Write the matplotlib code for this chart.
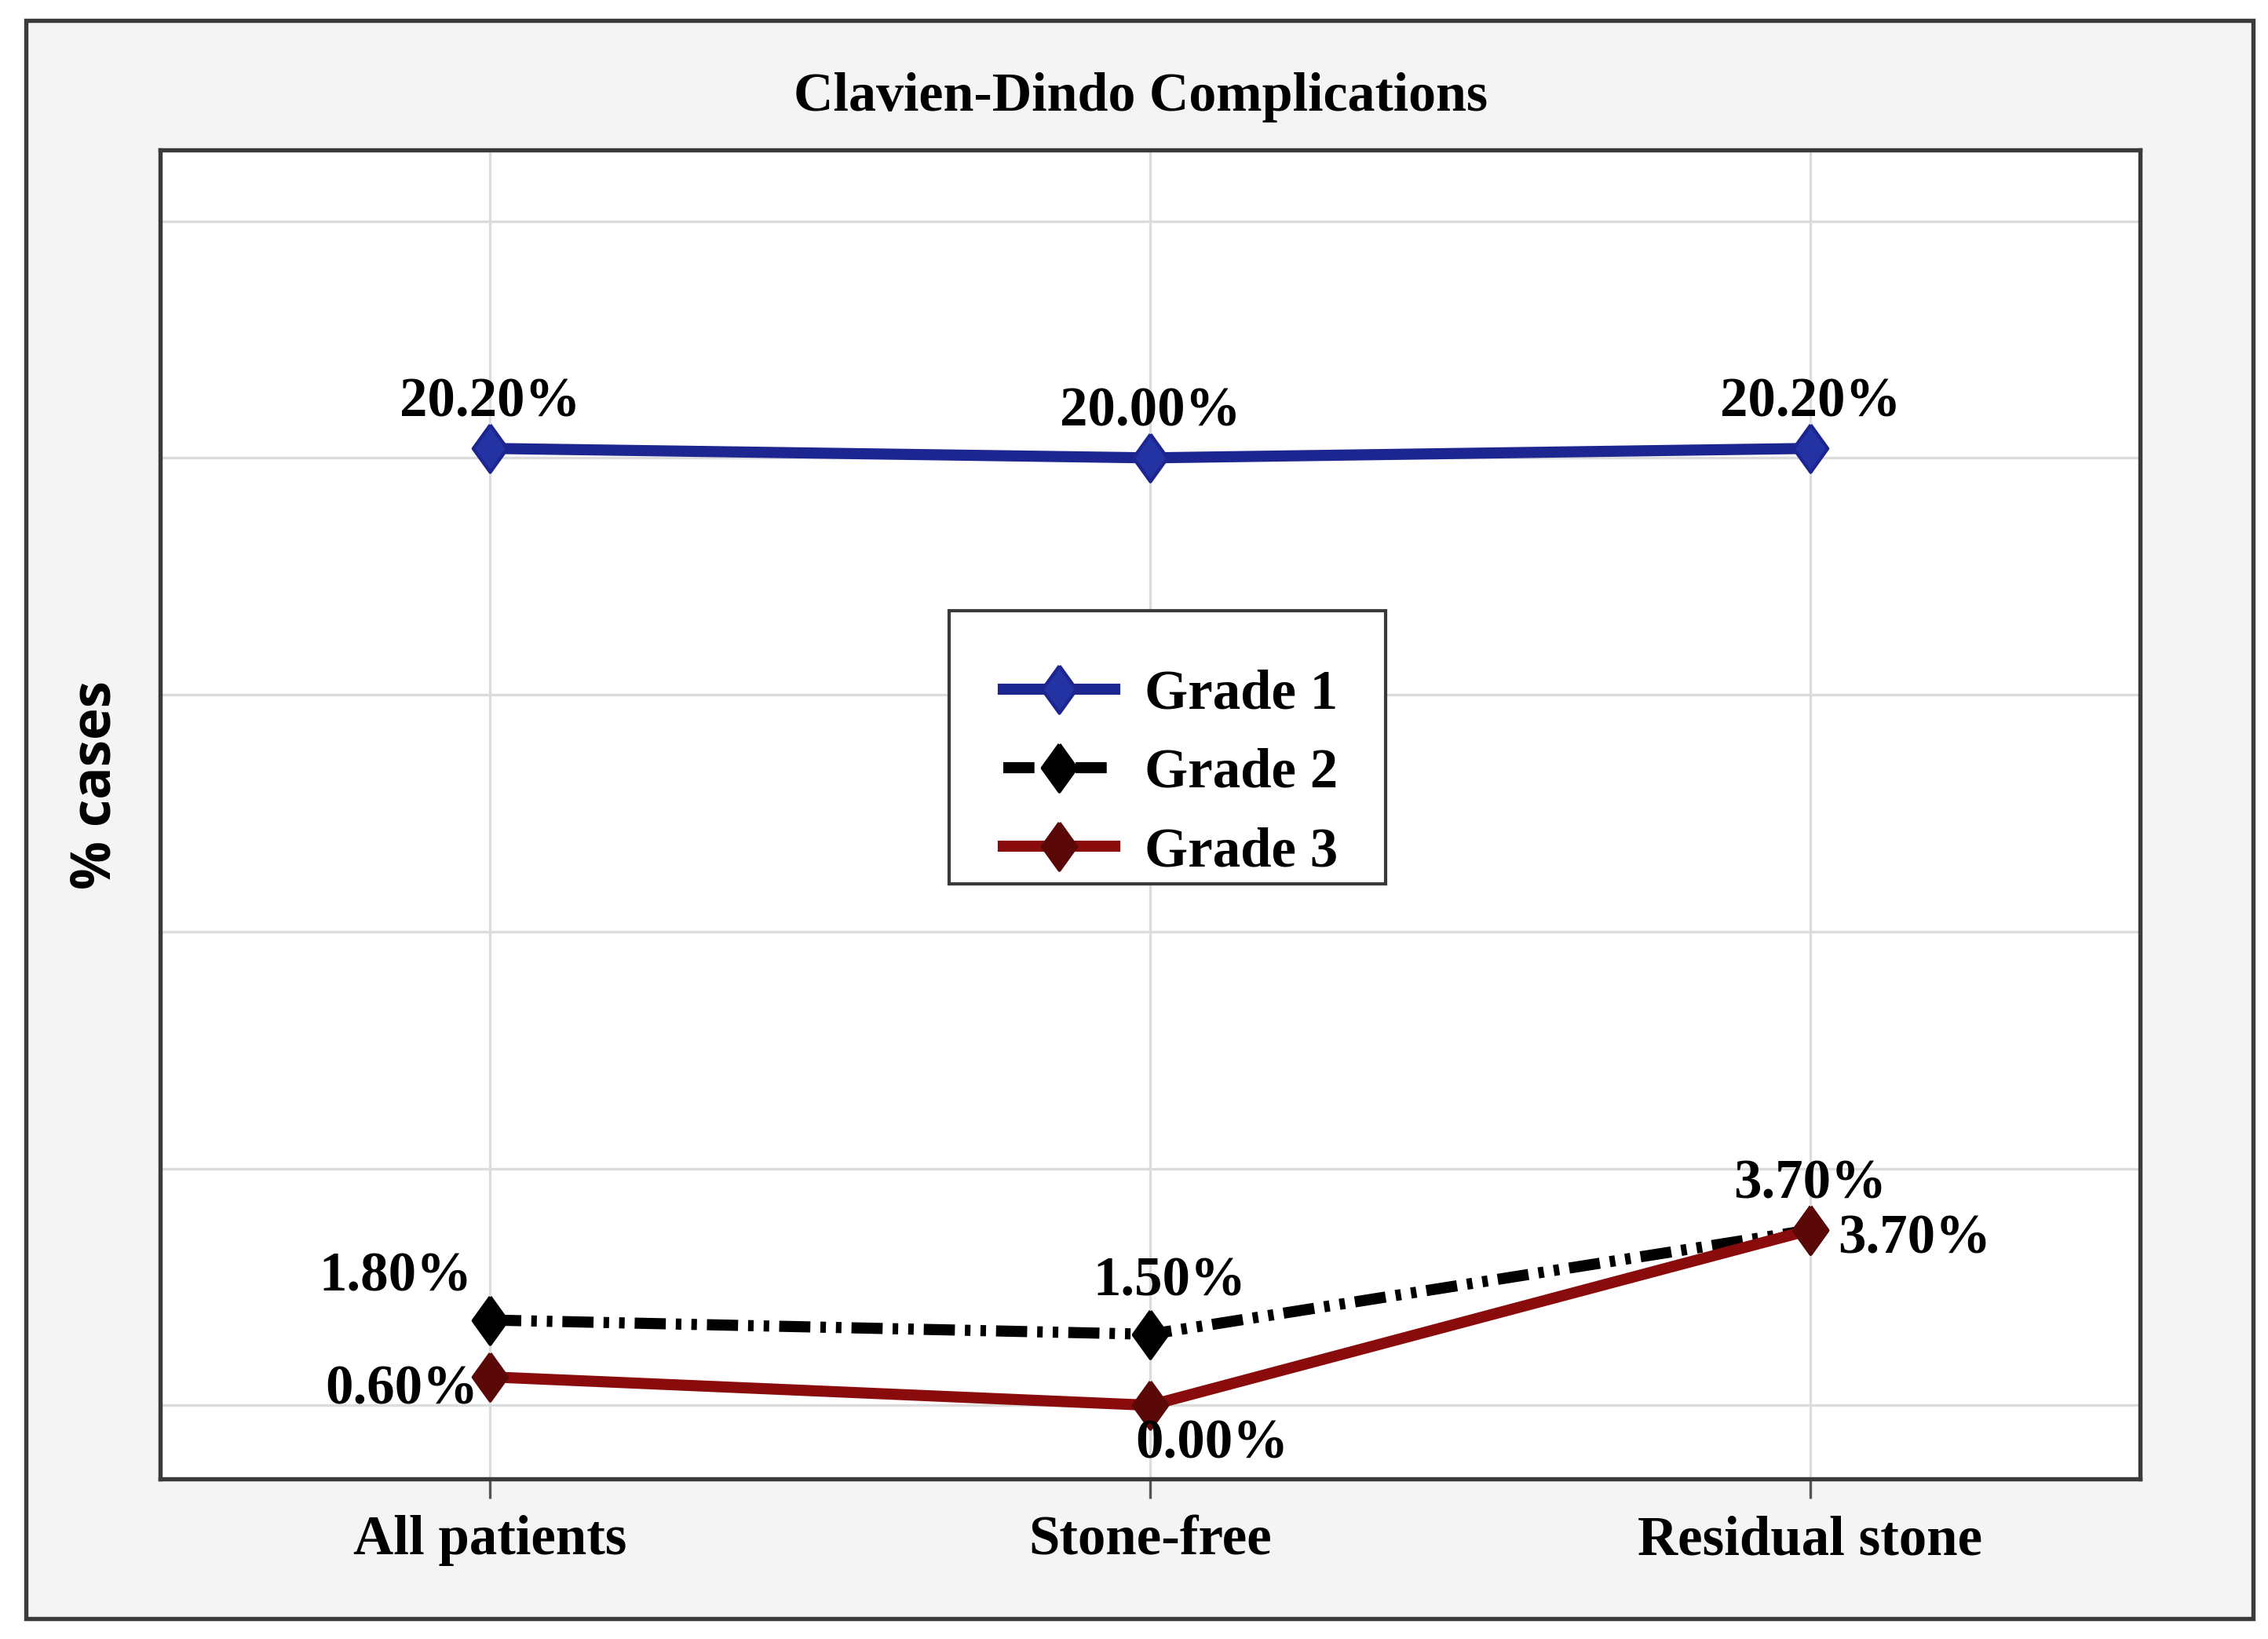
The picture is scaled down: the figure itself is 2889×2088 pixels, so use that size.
import matplotlib
matplotlib.use("Agg")
import matplotlib.pyplot as plt
from matplotlib.patches import Rectangle

# data
groups = ["All patients", "Stone-free", "Residual stone"]
grade1 = [20.2, 20.0, 20.2]
grade2 = [1.8, 1.5, 3.7]
grade3 = [0.6, 0.0, 3.7]
series_names = ["Grade 1", "Grade 2", "Grade 3"]

# label offsets (points) for each value label
off1 = [(0, 14), (0, 14), (0, 14)]
off2 = [(-29, 13), (6, 16), (0, 14)]
off3 = [(-27, -4), (19, -12), (32, -3)]

plt.rcParams["font.family"] = ["Liberation Serif", "DejaVu Serif"]
plt.rcParams["font.weight"] = "bold"

fig = plt.figure(figsize=(2889 / 300, 2088 / 300), dpi=300)
fig.patch.set_facecolor("white")

# outer frame with light grey fill
frame = Rectangle((33 / 2889, 1 - 2062 / 2088), (2870 - 33) / 2889, (2062 - 26) / 2088,
                  transform=fig.transFigure, facecolor="#f4f4f4", edgecolor="#3a3a3a",
                  linewidth=1.3, zorder=-10)
fig.patches.append(frame)

ax = fig.add_axes([0.0706, 0.0975, 0.873, 0.811])
ax.set_facecolor("white")

x = list(range(len(groups)))
diamond = [(0, 1), (0.72, 0), (0, -1), (-0.72, 0), (0, 1)]

ax.plot(x, grade1, color="#1c2590", linewidth=3.4, marker=diamond, markersize=14.5,
        markerfacecolor="#2333a3", markeredgecolor="#1c2590", label=series_names[0], zorder=3)
ax.plot(x, grade2, color="black", linewidth=3.4, linestyle=(0, (2.8, 0.9, 0.5, 0.9, 0.5, 0.9)),
        marker=diamond, markersize=14.5, markerfacecolor="black", markeredgecolor="black",
        label=series_names[1], zorder=3)
ax.plot(x, grade3, color="#8a0b0b", linewidth=3.4, marker=diamond, markersize=14.5,
        markerfacecolor="#5a0808", markeredgecolor="#5a0808", label=series_names[2], zorder=4)

for vals, offs in [(grade1, off1), (grade2, off2), (grade3, off3)]:
    for xi, v, o in zip(x, vals, offs):
        ax.annotate(f"{v:.2f}%", (xi, v), xytext=o, textcoords="offset points",
                    ha="center", va="center", fontsize=17, fontweight="bold", zorder=5)

ax.set_xlim(-0.5, 2.5)
ax.set_ylim(-1.56, 26.5)
ax.set_yticks([0, 5, 10, 15, 20, 25])
ax.set_yticklabels([])
ax.tick_params(axis="y", length=0)
ax.set_xticks(x)
ax.set_xticklabels(groups, fontsize=17, fontweight="bold")
ax.tick_params(axis="x", length=6, width=0.8, color="#555555", pad=5)
ax.grid(True, color="#dcdcdc", linewidth=0.8)
ax.set_axisbelow(True)
for s in ax.spines.values():
    s.set_color("#3a3a3a")
    s.set_linewidth(1.3)

fig.text(0.503, 0.9406, "Clavien-Dindo Complications", ha="center", va="center",
         fontsize=16.8, fontweight="bold")
fig.text(0.0425, 0.521, "% cases", ha="center", va="center", rotation=90,
         fontsize=16.5, fontweight="bold", family=["Open Sans", "DejaVu Sans"])

# legend entries without frame, box drawn separately (more room at top/left, like the original)
leg = ax.legend(loc="center left", bbox_to_anchor=(0.4258, 0.531), borderaxespad=0,
                handlelength=2.0, handletextpad=0.55, labelspacing=0.5,
                borderpad=0, frameon=False,
                prop={"family": "Liberation Serif", "weight": "bold", "size": 17})
leg.set_zorder(6)
ax.add_patch(Rectangle((0.3985, 0.4478), 0.619 - 0.3985, 0.6534 - 0.4478,
                       transform=ax.transAxes, facecolor="white", edgecolor="#3a3a3a",
                       linewidth=1.0, zorder=5))

fig.savefig("out.png", dpi=300)
